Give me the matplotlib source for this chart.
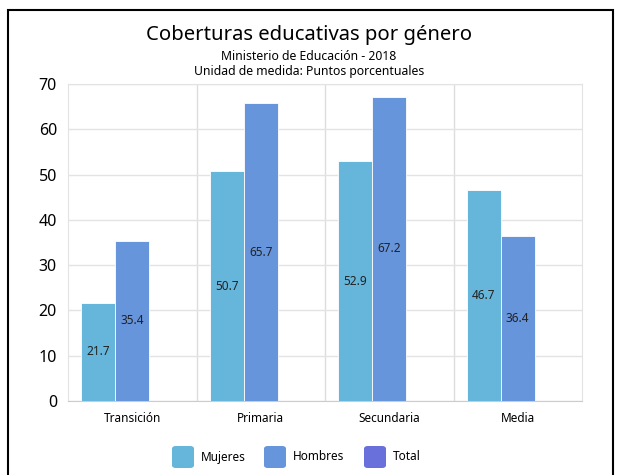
import numpy as np
import matplotlib.pyplot as plt
from matplotlib.patches import Rectangle, FancyBboxPatch

plt.rcParams['font.family'] = ['Noto Sans', 'DejaVu Sans']

categorias = ['Transición', 'Primaria', 'Secundaria', 'Media']
mujeres = [21.7, 50.7, 52.9, 46.7]
hombres = [35.4, 65.7, 67.2, 36.4]
total = [0, 0, 0, 0]
series = ['Mujeres', 'Hombres', 'Total']
colores = ['#66b5db', '#6795dc', '#6970db']

fig = plt.figure(figsize=(6.18, 4.75), dpi=100)
ax = fig.add_axes([68 / 618, 1 - 401 / 475, 514 / 618, 317 / 475])

x = np.arange(len(categorias))
w = 0.265
for k, vals in enumerate([mujeres, hombres, total]):
    pos = x + (k - 1) * w
    ax.bar(pos, vals, width=w, color=colores[k], edgecolor='white',
           linewidth=0.6, zorder=3)
    for p, v in zip(pos, vals):
        if v > 0:
            ax.text(p, v / 2, '%.1f' % v, ha='center', va='center',
                    fontsize=8.5, color='#222222', zorder=4)

ax.set_xlim(-0.5, len(categorias) - 0.5)
ax.set_ylim(0, 70)
ax.set_yticks(range(0, 71, 10))
ax.set_xticks(x)
ax.set_xticklabels(categorias, fontsize=8.5)
ax.tick_params(axis='y', labelsize=11.5, length=0, pad=8)
ax.tick_params(axis='x', length=0, pad=8)
ax.grid(axis='y', color='#e3e3e3', linewidth=1, zorder=0)
for b in x[:-1] + 0.5:
    ax.axvline(b, color='#dddddd', linewidth=1, zorder=0)
for s in ['top', 'right', 'left']:
    ax.spines[s].set_color('#e3e3e3')
ax.spines['bottom'].set_color('#cccccc')

fig.text(0.5, 1 - 35 / 475, 'Coberturas educativas por género', ha='center',
         va='center', fontsize=14.6)
fig.text(0.5, 1 - 56 / 475, 'Ministerio de Educación - 2018', ha='center',
         va='center', fontsize=8.8)
fig.text(0.5, 1 - 72 / 475, 'Unidad de medida: Puntos porcentuales',
         ha='center', va='center', fontsize=8.8)

# leyenda hecha a mano con cuadros redondeados
leg_x = [172, 264, 364]
for lx, nombre, c in zip(leg_x, series, colores):
    fig.patches.append(FancyBboxPatch((lx / 618, 1 - 468 / 475), 22 / 618,
                                      22 / 475, boxstyle='round,pad=0,rounding_size=0.006',
                                      transform=fig.transFigure,
                                      facecolor=c, edgecolor='none'))
    fig.text((lx + 29) / 618, 1 - 457 / 475, nombre, ha='left', va='center',
             fontsize=8.5)

fig.patches.append(Rectangle((8 / 618, -0.1), 605 / 618, 1.1 - 10 / 475,
                             transform=fig.transFigure, fill=False,
                             edgecolor='black', linewidth=1.5))

fig.savefig('out.png', dpi=100)
